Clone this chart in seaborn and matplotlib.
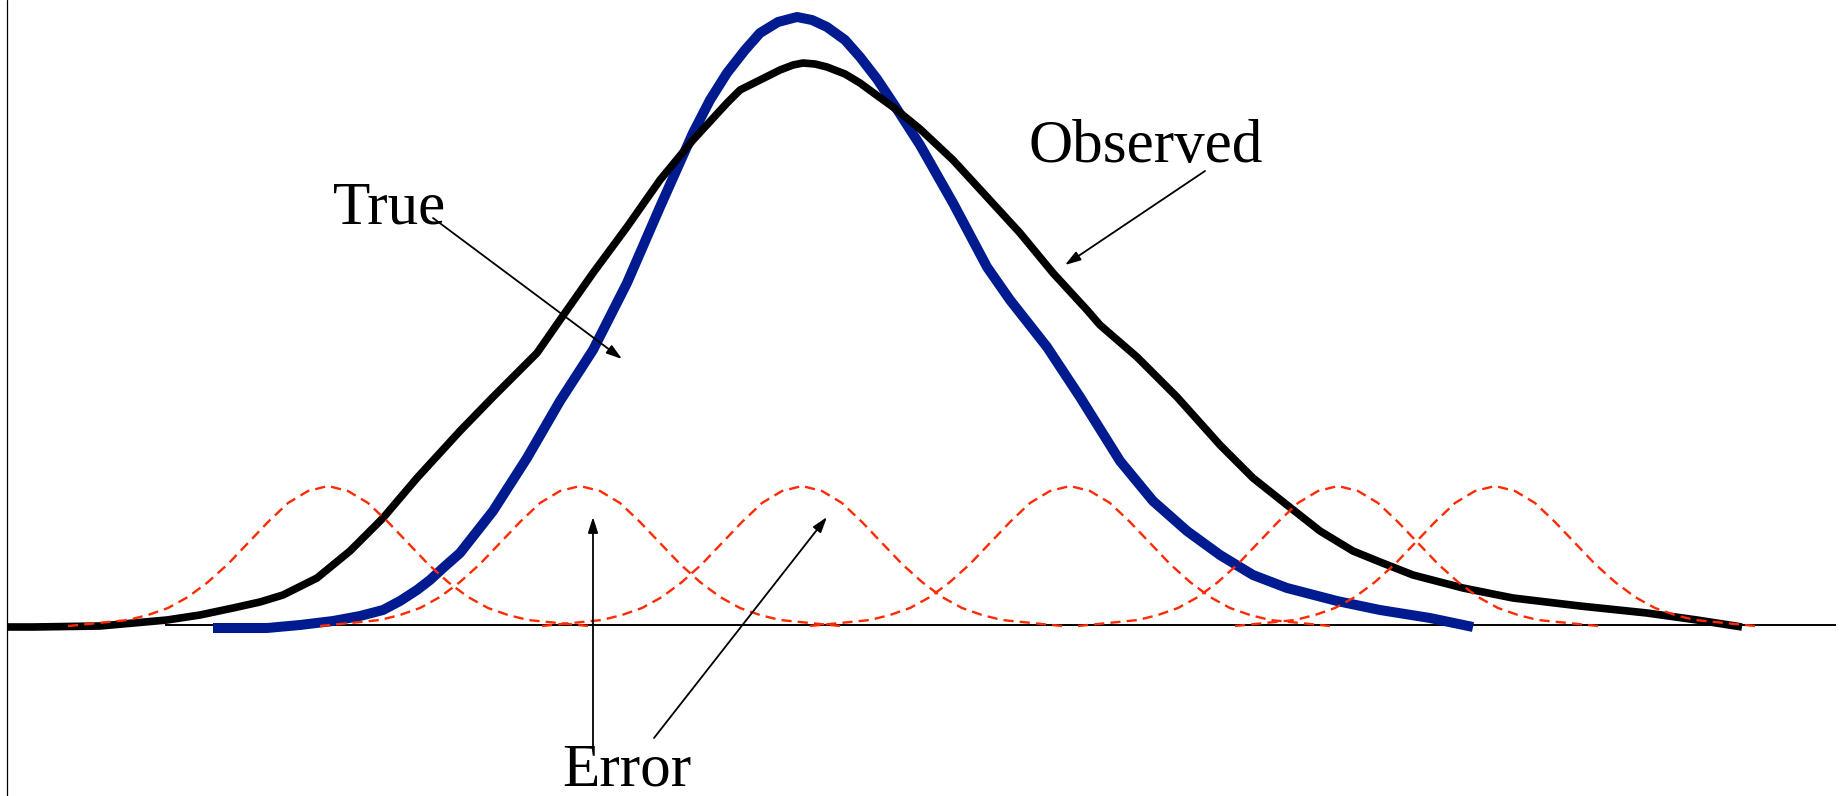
import numpy as np
import pandas as pd
import matplotlib
matplotlib.use("Agg")
import matplotlib.pyplot as plt
import seaborn as sns

# ---------------- data (units: px-like, y up from baseline) ----
obs_x = [7, 33, 100, 167, 200, 233, 260, 283, 317, 350, 383, 417, 460, 493, 537, 560,
         593, 627, 660, 693, 727, 740, 760, 780, 793, 803, 815, 827, 845, 860, 875,
         893, 920, 953, 987, 1020, 1053, 1087, 1100, 1137, 1177, 1220, 1253, 1287,
         1320, 1353, 1380, 1413, 1463, 1513, 1580, 1647, 1697, 1742]
obs_y = [-2, -2, -1, 5, 10, 17, 23, 30, 47, 74, 107, 147, 194, 228, 272, 305,
         352, 398, 445, 485, 522, 535, 545, 555, 560, 562, 561, 558, 551, 542, 531,
         518, 496, 465, 428, 392, 352, 315, 300, 268, 228, 180, 147, 120,
         94, 74, 63, 50, 37, 27, 19, 12, 5, -2]

true_x = [213, 267, 300, 333, 360, 383, 400, 417, 430, 443, 460, 493, 527, 560, 593,
          627, 660, 693, 710, 727, 745, 760, 778, 797, 812, 827, 845, 860, 877, 893,
          920, 953, 987, 1010, 1047, 1080, 1120, 1153, 1187, 1220, 1253, 1287, 1337,
          1380, 1430, 1473]
true_y = [-3, -3, 0, 4, 9, 15, 24, 35, 45, 57, 72, 114, 167, 224, 275,
          342, 418, 492, 525, 552, 575, 592, 603, 608, 605, 598, 585, 568, 546, 522,
          480, 422, 358, 325, 278, 228, 164, 124, 94, 70, 50, 37, 24,
          15, 7, -2]

# error distributions: centres and one kernel profile (offset, height)
err_centres = [328, 580, 802, 1070, 1338, 1495]
kern_off = [-260, -240, -220, -200, -180, -160, -140, -120, -100, -80, -60, -40, -20, 0,
            20, 40, 60, 80, 100, 120, 140, 160, 180, 200, 220, 240, 260]
kern_h = [-1, 1, 3, 5, 10, 17, 28, 43, 61, 82, 103, 122, 134, 139,
          134, 122, 103, 82, 61, 43, 28, 17, 10, 5, 3, 1, -1]

labels = ["True", "Observed", "Error"]
label_pos = [(333, 402), (1028, 463), (562, -160)]
true_arrow = [(433, 407), (622, 266)]
obs_arrow = [(1205, 454), (1065, 360)]
err_arrows = [[(593, -122), (593, 108)], [(654, -113), (827, 108)]]

# ---------------- figure -------------------------------------------------------------
sns.set_theme(style="white")
plt.rcParams['font.family'] = ['Liberation Serif', 'DejaVu Serif']

fig = plt.figure(figsize=(18.42, 7.96), dpi=100)
ax = fig.add_axes([0, 0, 1, 1])
ax.set_xlim(0, 1842)
ax.set_ylim(-171, 625)
ax.axis("off")

# frame lines
ax.axvline(7, color="black", lw=0.9, zorder=1)
ax.hlines(0, 165, 1836, color="black", lw=1.4, zorder=1)

sns.lineplot(x=true_x, y=true_y, ax=ax, color="#001a8f", lw=7.2, sort=False,
             solid_capstyle="butt", solid_joinstyle="round", zorder=3)
sns.lineplot(x=obs_x, y=obs_y, ax=ax, color="black", lw=5.5, sort=False,
             solid_capstyle="butt", solid_joinstyle="round", zorder=4)

for c in err_centres:
    sns.lineplot(x=[c + o for o in kern_off], y=kern_h, ax=ax, color="#ff2a00",
                 lw=1.7, sort=False, zorder=5).lines[-1].set_dashes([4.3, 2.6])

# labels
for t, (x, y) in zip(labels, label_pos):
    ax.text(x, y, t, fontsize=44, ha="left", va="baseline", color="black", zorder=6)

arrow_kw = dict(arrowstyle="-|>,head_length=0.47,head_width=0.15", color="black",
                lw=1.3, shrinkA=0, shrinkB=0, mutation_scale=20)
for (s, e) in [true_arrow, obs_arrow] + err_arrows:
    ax.annotate("", xy=e, xytext=s, arrowprops=arrow_kw, zorder=6)

fig.savefig("out.png", dpi=100, facecolor="white")
